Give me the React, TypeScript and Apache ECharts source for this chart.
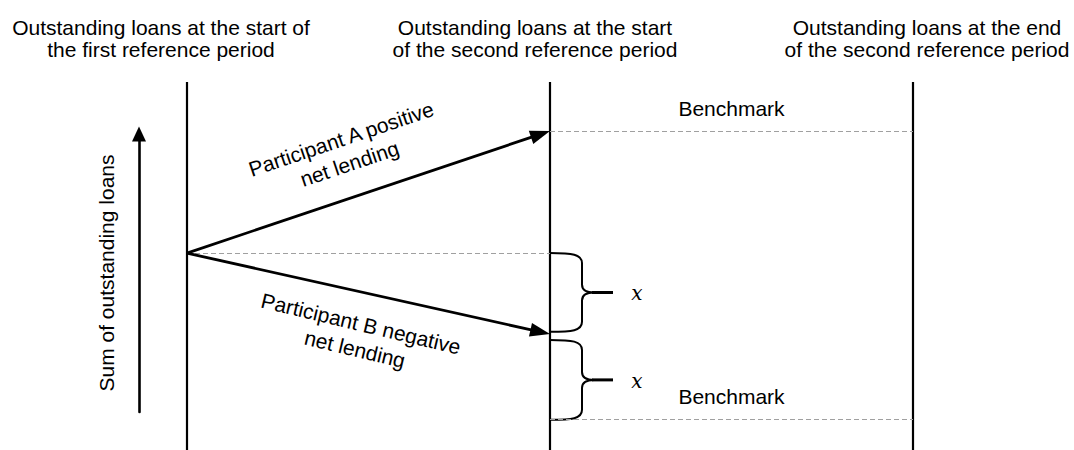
import React, { useEffect, useRef } from "react";
import * as echarts from "echarts";

// ---- data ----
const periodPositions = [0, 1, 2];
const periodTitles = [
  "Outstanding loans at the start of\nthe first reference period",
  "Outstanding loans at the start\nof the second reference period",
  "Outstanding loans at the end\nof the second reference period",
];
const startLevel = 53.5;
const arrowFrom = [
  [0, 53.5],
  [0, 53.5],
];
const arrowTo = [
  [1, 86.7],
  [1, 31.5],
];
const arrowLabels = ["Participant A positive\nnet lending", "Participant B negative\nnet lending"];
const benchmarkLevels = [86.7, 8.4];
const benchmarkLabel = "Benchmark";
const braceTops = [53.5, 29.9];
const braceBottoms = [32.1, 8.2];
const braceLabel = "x";
const yAxisName = "Sum of outstanding loans";

// ---- styles ----
const FONT = "'Liberation Sans', Arial, sans-serif";
const FS = 21;
const titleAnchors = [
  [161, 38],
  [535, 38],
  [927, 38],
];
// label offsets relative to arrow midpoint: [along, perpendicular (neg = above)]
const arrowLabelOffsets = [
  [-9, -46],
  [-1, 44],
];
const arrowLabelExtraRotation = [0, -0.015];

export default function App() {
  const ref = useRef<HTMLDivElement>(null);
  useEffect(() => {
    if (!ref.current) return;
    const chart = echarts.init(ref.current, undefined, { renderer: "svg" });

    const arrowData = arrowFrom.map((f, i) => [f[0], f[1], arrowTo[i][0], arrowTo[i][1]]);
    const braceData = braceTops.map((t, i) => [periodPositions[1], t, braceBottoms[i]]);

    const verticalSeries = periodPositions.map((p, i) => {
      const s: any = {
        type: "line",
        xAxisIndex: 0,
        yAxisIndex: 0,
        data: [
          [p, 0],
          [p, 100],
        ],
        symbol: "none",
        silent: true,
        lineStyle: { color: "#000", width: 2.2 },
        z: 3,
      };
      if (i === 0) {
        s.markLine = {
          silent: true,
          symbol: ["none", "none"],
          lineStyle: { type: [5, 3], color: "#a0a0a0", width: 1 },
          label: {
            show: true,
            position: "insideMiddleTop",
            distance: 12,
            color: "#000",
            fontSize: FS,
            fontFamily: FONT,
            formatter: () => benchmarkLabel,
          },
          data: [
            [{ coord: [periodPositions[1], benchmarkLevels[0]] }, { coord: [periodPositions[2], benchmarkLevels[0]] }],
            [
              { coord: [periodPositions[0], startLevel], label: { show: false } },
              { coord: [periodPositions[1], startLevel] },
            ],
            [{ coord: [periodPositions[1], benchmarkLevels[1]] }, { coord: [periodPositions[2], benchmarkLevels[1]] }],
          ],
        };
      }
      return s;
    });

    const option: any = {
      animation: false,
      backgroundColor: "#fff",
      grid: [
        { left: 187, right: 161, top: 82, bottom: 0 },
        { left: 139, width: 10, top: 134, bottom: 38 },
      ],
      xAxis: [
        { type: "value", gridIndex: 0, min: 0, max: 2, show: false },
        { type: "value", gridIndex: 1, min: 0, max: 1, show: false },
      ],
      yAxis: [
        { type: "value", gridIndex: 0, min: 0, max: 100, show: false },
        {
          type: "value",
          gridIndex: 1,
          min: 0,
          max: 1,
          show: true,
          axisLine: {
            show: true,
            symbol: ["none", "triangle"],
            symbolSize: [14, 15],
            lineStyle: { color: "#000", width: 2.6 },
          },
          axisTick: { show: false },
          axisLabel: { show: false },
          splitLine: { show: false },
          name: yAxisName,
          nameLocation: "middle",
          nameGap: 22,
          nameTextStyle: { color: "#000", fontSize: FS, fontFamily: FONT },
        },
      ],
      graphic: periodTitles.map((t, i) => ({
        type: "text",
        x: titleAnchors[i][0],
        y: titleAnchors[i][1],
        silent: true,
        style: {
          text: t,
          fill: "#000",
          font: `${FS}px ${FONT}`,
          align: "center",
          verticalAlign: "middle",
          lineHeight: 22,
        },
      })),
      series: [
        ...verticalSeries,
        {
          type: "custom",
          xAxisIndex: 0,
          yAxisIndex: 0,
          silent: true,
          z: 5,
          encode: { x: [0, 2], y: [1, 3] },
          data: arrowData,
          renderItem: (params: any, api: any) => {
            const p0 = api.coord([api.value(0), api.value(1)]);
            const p1 = api.coord([api.value(2), api.value(3)]);
            const dx = p1[0] - p0[0];
            const dy = p1[1] - p0[1];
            const len = Math.hypot(dx, dy);
            const ux = dx / len;
            const uy = dy / len;
            const nx = -uy;
            const ny = ux;
            const headLen = 20;
            const headHalf = 7;
            const bx = p1[0] - ux * headLen;
            const by = p1[1] - uy * headLen;
            const off = arrowLabelOffsets[params.dataIndex];
            const mx = (p0[0] + p1[0]) / 2;
            const my = (p0[1] + p1[1]) / 2;
            const pdx = -uy;
            const pdy = ux;
            const lx = mx + ux * off[0] + pdx * off[1];
            const ly = my + uy * off[0] + pdy * off[1];
            return {
              type: "group",
              children: [
                {
                  type: "line",
                  shape: { x1: p0[0], y1: p0[1], x2: bx + ux * 3, y2: by + uy * 3 },
                  style: { stroke: "#000", lineWidth: 2.8 },
                },
                {
                  type: "polygon",
                  shape: {
                    points: [
                      [p1[0], p1[1]],
                      [bx + nx * headHalf, by + ny * headHalf],
                      [bx - nx * headHalf, by - ny * headHalf],
                    ],
                  },
                  style: { fill: "#000" },
                },
                {
                  type: "text",
                  x: lx,
                  y: ly,
                  rotation: -Math.atan2(dy, dx) + arrowLabelExtraRotation[params.dataIndex],
                  style: {
                    text: arrowLabels[params.dataIndex],
                    fill: "#000",
                    font: `${FS}px ${FONT}`,
                    align: "center",
                    verticalAlign: "middle",
                    lineHeight: 26,
                  },
                },
              ],
            };
          },
        },
        {
          type: "custom",
          xAxisIndex: 0,
          yAxisIndex: 0,
          silent: true,
          z: 4,
          encode: { x: 0, y: [1, 2] },
          data: braceData,
          renderItem: (params: any, api: any) => {
            const top = api.coord([api.value(0), api.value(1)]);
            const bot = api.coord([api.value(0), api.value(2)]);
            const x0 = top[0];
            const yT = top[1];
            const yB = bot[1];
            const yM = (yT + yB) / 2;
            const w = 32;
            const d =
              `M${x0} ${yT} C${x0 + 22} ${yT} ${x0 + w} ${yT + 1} ${x0 + w} ${yT + 10} ` +
              `L${x0 + w} ${yM - 8} C${x0 + w} ${yM - 2} ${x0 + w + 5} ${yM} ${x0 + w + 12} ${yM} ` +
              `M${x0 + w + 12} ${yM} C${x0 + w + 5} ${yM} ${x0 + w} ${yM + 2} ${x0 + w} ${yM + 8} ` +
              `L${x0 + w} ${yB - 10} C${x0 + w} ${yB - 1} ${x0 + 22} ${yB} ${x0} ${yB}`;
            return {
              type: "group",
              children: [
                {
                  type: "path",
                  shape: { pathData: d },
                  style: { stroke: "#000", fill: "none", lineWidth: 2 },
                },
                {
                  type: "line",
                  shape: { x1: x0 + w + 10, y1: yM, x2: x0 + w + 31, y2: yM },
                  style: { stroke: "#000", lineWidth: 3 },
                },
                {
                  type: "text",
                  x: x0 + w + 55,
                  y: yM + 1,
                  style: {
                    text: braceLabel,
                    fill: "#000",
                    font: `italic 20px 'DejaVu Serif', 'Liberation Serif', serif`,
                    align: "center",
                    verticalAlign: "middle",
                  },
                },
              ],
            };
          },
        },
      ],
    };
    chart.setOption(option);
    return () => chart.dispose();
  }, []);
  return (
    <div
      ref={ref}
      style={{ position: "absolute", left: 0, top: 0, width: 1074, height: 450, background: "#fff" }}
    />
  );
}
